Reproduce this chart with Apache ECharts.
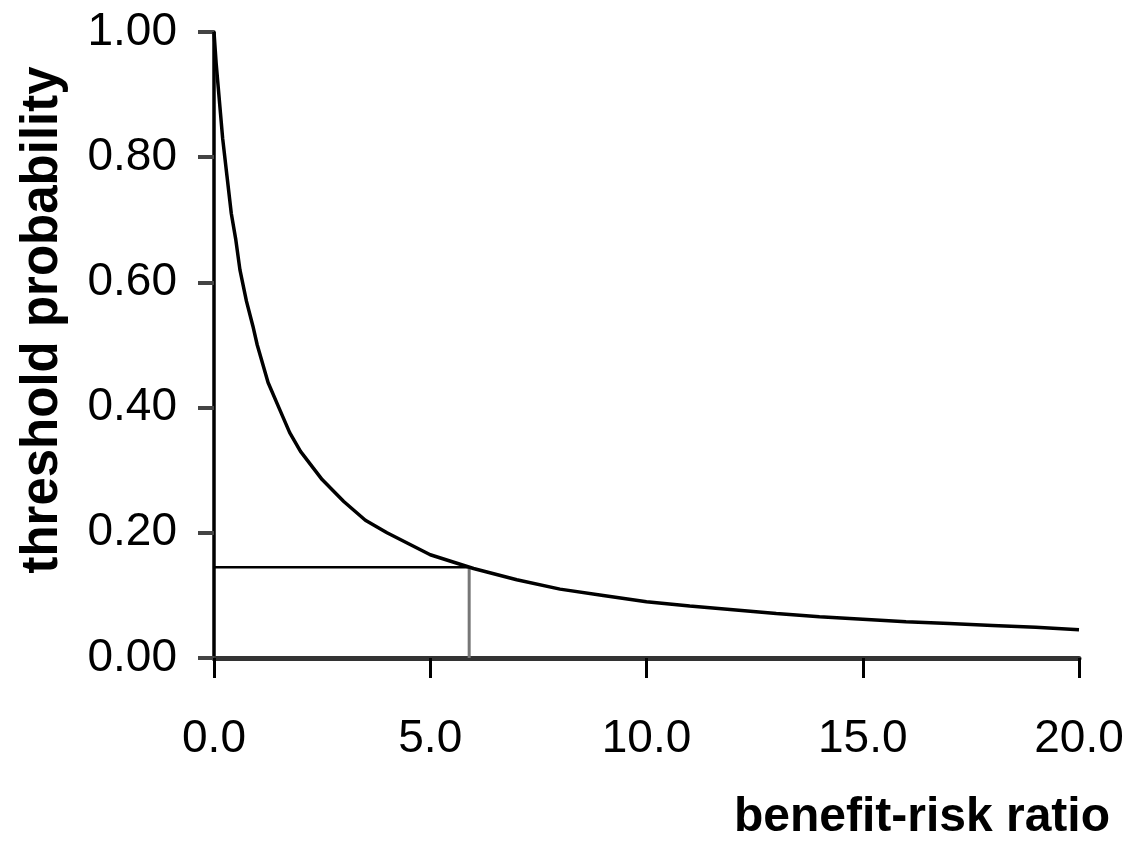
<!DOCTYPE html>
<html>
<head>
<meta charset="utf-8">
<script src="https://cdn.jsdelivr.net/npm/echarts@6/dist/echarts.min.js"></script>
<style>
  html, body { margin: 0; padding: 0; background: #fff; }
  #main { width: 1128px; height: 841px; }
</style>
</head>
<body>
<div id="main"></div>
<script>
// benefit-risk ratio vs threshold probability
var ratio = [0, 0.05, 0.1, 0.15, 0.2, 0.3, 0.4, 0.5, 0.6, 0.75, 0.9, 1, 1.25, 1.5, 1.75, 2, 2.5, 3, 3.5, 4,
  5, 6, 7, 8, 9, 10, 11, 12, 13, 14, 15, 16, 17, 18, 19, 20]
var threshold = [1.00, 0.95, 0.91, 0.87, 0.83, 0.77, 0.71, 0.67, 0.62, 0.57, 0.53, 0.50, 0.44, 0.40, 0.36, 0.33, 0.285, 0.25, 0.22, 0.20,
  0.165, 0.143, 0.125, 0.11, 0.10, 0.09, 0.083, 0.077, 0.071, 0.066, 0.062, 0.058, 0.055, 0.052, 0.049, 0.045]

// marked point on the curve
var markRatio = 5.9
var markProb = 0.145

var xTicks = [0, 5, 10, 15, 20]
var yTicks = [0, 0.2, 0.4, 0.6, 0.8, 1.0]

var curve = ratio.map(function (r, i) { return [r, threshold[i]] })

var myChart = echarts.init(document.getElementById('main'))

var option = {
  animation: false,
  grid: { left: 214, right: 49, top: 32, bottom: 183, containLabel: false },
  xAxis: {
    type: 'value',
    min: xTicks[0],
    max: xTicks[xTicks.length - 1],
    interval: 5,
    splitLine: { show: false },
    axisLine: { onZero: false, lineStyle: { color: '#333', width: 5 } },
    axisTick: { show: true, length: 20, lineStyle: { color: '#000', width: 3 } },
    axisLabel: {
      margin: 58,
      color: '#000',
      fontFamily: 'Liberation Sans, Arial, sans-serif',
      fontSize: 46,
      formatter: function (v) { return v.toFixed(1) }
    }
  },
  yAxis: {
    type: 'value',
    min: yTicks[0],
    max: yTicks[yTicks.length - 1],
    interval: 0.2,
    splitLine: { show: false },
    axisLine: { onZero: false, lineStyle: { color: '#000', width: 3.5 } },
    axisTick: { show: true, length: 16, lineStyle: { color: '#444', width: 4 } },
    axisLabel: {
      margin: 37,
      color: '#000',
      fontFamily: 'Liberation Sans, Arial, sans-serif',
      fontSize: 46,
      formatter: function (v) { return v.toFixed(2) }
    }
  },
  graphic: [
    {
      type: 'text',
      x: 43,
      y: 320,
      rotation: Math.PI / 2,
      style: {
        text: 'threshold probability',
        font: 'bold 51px Liberation Sans, Arial, sans-serif',
        fill: '#000',
        align: 'center',
        verticalAlign: 'middle'
      }
    },
    {
      type: 'text',
      x: 1110,
      y: 818,
      style: {
        text: 'benefit-risk ratio',
        font: 'bold 48px Liberation Sans, Arial, sans-serif',
        fill: '#000',
        align: 'right',
        verticalAlign: 'middle'
      }
    }
  ],
  series: [
    {
      name: 'curve',
      type: 'line',
      data: curve,
      showSymbol: false,
      smooth: false,
      lineStyle: { color: '#000', width: 3.5 },
      z: 3
    },
    {
      name: 'horizontal',
      type: 'line',
      data: [[0, markProb], [markRatio, markProb]],
      showSymbol: false,
      lineStyle: { color: '#000', width: 2.5 },
      z: 2
    },
    {
      name: 'vertical',
      type: 'line',
      data: [[markRatio, 0], [markRatio, markProb]],
      showSymbol: false,
      lineStyle: { color: '#777', width: 3 },
      z: 2
    }
  ]
}

myChart.setOption(option)
</script>
</body>
</html>
